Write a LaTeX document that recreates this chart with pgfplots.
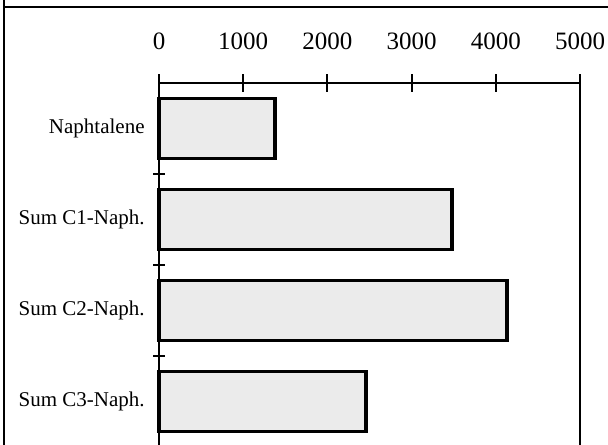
\documentclass[border=0pt]{standalone}
\usepackage{fontspec}
\setmainfont{Liberation Serif}
\usepackage{pgfplots}
\pgfplotsset{compat=1.18}
\begin{document}
\begin{tikzpicture}
\begin{axis}[
  name=ax, at={(0,0)}, anchor=north west,
  scale only axis, width=210.5pt, height=182pt,
  xbar, bar width=30pt,
  xmin=0, xmax=5000,
  ymin=-0.5, ymax=3.5, y dir=reverse,
  axis line style={draw=none},
  clip=false,
  xtick={0,1000,2000,3000,4000,5000},
  xtick pos=right, xticklabel pos=right,
  tick align=center,
  major tick length=9pt,
  major x tick style={line width=1pt, black},
  xticklabel style={font=\fontsize{12.5}{14}\selectfont, anchor=base, yshift=12.5pt, inner sep=0pt},
  scaled ticks=false,
  /pgf/number format/1000 sep={},
  /pgf/number format/assume math mode=true,
  ytick={0,1,2,3},
  yticklabels={Naphtalene, Sum C1-Naph., Sum C2-Naph., Sum C3-Naph.},
  ytick pos=left,
  major y tick style={draw=none},
  minor ytick={0.5,1.5,2.5},
  minor tick length=6pt,
  minor y tick style={line width=0.8pt, black},
  yticklabel style={font=\fontsize{10.5}{12}\selectfont, anchor=east, inner sep=0pt, xshift=-2.5pt},
]
\addplot[draw=black, line width=1.8pt, fill=black!8] coordinates {
  (1375,0)
  (3480,1)
  (4130,2)
  (2455,3)
};
\draw[line width=1pt] (axis cs:0,3.5) -- (axis cs:0,-0.5) -- (axis cs:5000,-0.5) -- (axis cs:5000,3.5);
\end{axis}
% outer frame of the figure
\draw[line width=1pt] ([xshift=-77.5pt,yshift=60pt]ax.north west) -- ([xshift=-77.5pt,yshift=-200pt]ax.north west);
\draw[line width=1pt] ([xshift=-78pt,yshift=38pt]ax.north west) -- ([xshift=240pt,yshift=38pt]ax.north west);
\pgfresetboundingbox
\useasboundingbox ([xshift=-79.5pt,yshift=41.5pt]ax.north west) rectangle ([xshift=224.5pt,yshift=-180.5pt]ax.north west);
\end{tikzpicture}
\end{document}
